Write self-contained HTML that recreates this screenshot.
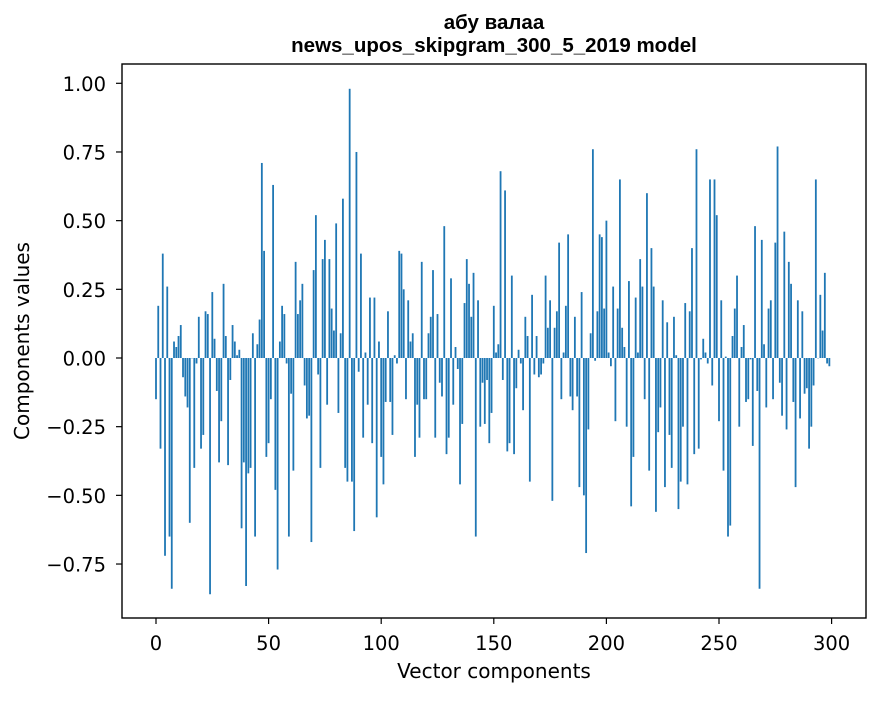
<!DOCTYPE html>
<html><head><meta charset="utf-8"><style>
body{margin:0;background:#fff;}
svg text{font-family:"DejaVu Sans","Liberation Sans",sans-serif;fill:#000;}
svg text.title{font-family:"Liberation Sans","DejaVu Sans",sans-serif;}
</style></head><body>
<svg id="chart" width="880" height="696" xmlns="http://www.w3.org/2000/svg">
<rect x="0" y="0" width="880" height="696" fill="#fff"/>
<text class="title" x="494" y="29" text-anchor="middle" font-size="20.5" font-weight="bold">абу валаа</text>
<text class="title" x="494" y="52" text-anchor="middle" font-size="20.5" font-weight="bold">news_upos_skipgram_300_5_2019 model</text>
<g id="bars"></g>
<g id="xticks"></g>
<g id="yticks"></g>
<rect x="122" y="64" width="744" height="554" fill="none" stroke="#000" stroke-width="1.4"/>
<text x="494" y="678" text-anchor="middle" font-size="20">Vector components</text>
<text transform="translate(29,341) rotate(-90)" text-anchor="middle" font-size="20">Components values</text>
</svg>
<script>
const values = [
-0.15,0.19,-0.33,0.38,-0.72,0.26,-0.65,-0.84,0.06,0.04,
0.08,0.12,-0.07,-0.14,-0.18,-0.60,0.0,-0.40,-0.02,0.15,
-0.33,-0.28,0.17,0.16,-0.86,0.24,0.07,-0.12,-0.38,-0.23,
0.27,0.08,-0.39,-0.08,0.12,0.06,0.01,0.03,-0.62,-0.38,
-0.83,-0.42,-0.40,0.09,-0.65,0.05,0.14,0.71,0.39,-0.36,
-0.31,-0.15,0.63,-0.48,-0.77,0.06,0.19,0.16,-0.02,-0.65,
-0.13,-0.41,0.35,0.16,0.21,0.27,-0.10,-0.22,-0.21,-0.67,
0.32,0.52,-0.06,-0.40,0.36,0.43,-0.17,0.36,0.18,0.10,
0.49,-0.20,0.09,0.58,-0.40,-0.45,0.98,-0.45,-0.63,0.75,
-0.05,0.38,-0.29,0.02,-0.17,0.22,-0.31,0.22,-0.58,0.06,
-0.36,-0.46,-0.16,0.17,-0.16,-0.28,0.01,-0.02,0.39,0.38,
0.25,-0.15,0.21,0.06,0.09,-0.36,-0.17,-0.29,0.35,-0.15,
-0.15,0.09,0.15,0.32,-0.29,0.16,-0.09,-0.14,0.48,-0.35,
-0.29,0.29,-0.17,0.04,-0.04,-0.46,-0.24,0.20,0.36,0.27,
0.15,0.31,-0.65,0.21,-0.25,-0.09,-0.24,-0.08,-0.31,-0.20,
0.19,0.02,0.05,0.68,-0.08,0.61,-0.34,-0.31,0.30,-0.35,
-0.11,0.03,-0.02,-0.19,0.15,0.08,-0.45,0.23,-0.06,0.08,
-0.07,-0.06,-0.02,0.30,0.11,0.21,-0.52,0.11,0.17,0.42,
-0.15,0.02,0.19,0.45,-0.14,-0.19,0.15,-0.14,-0.47,0.24,
-0.50,-0.71,-0.26,0.09,0.76,-0.01,0.17,0.45,0.44,0.18,
0.50,0.02,-0.03,0.26,-0.23,0.18,0.65,0.11,0.04,-0.25,
0.28,-0.54,-0.36,0.22,0.02,0.36,0.26,-0.15,0.60,-0.41,
0.40,0.26,-0.56,-0.27,-0.18,0.21,-0.47,0.13,-0.28,-0.40,
0.15,0.01,-0.55,-0.45,-0.25,0.20,-0.46,0.17,0.40,-0.35,
0.76,-0.33,-0.005,0.07,0.02,-0.02,0.65,-0.10,0.65,0.52,
-0.23,0.21,-0.41,0.005,-0.65,-0.61,0.08,0.18,0.30,-0.25,
0.04,0.12,-0.16,-0.15,-0.005,-0.32,0.48,-0.12,-0.84,0.43,
0.05,-0.18,0.18,0.21,-0.15,0.42,0.77,-0.09,-0.21,0.46,
-0.26,0.35,0.27,-0.16,-0.47,0.21,-0.22,0.17,-0.13,-0.11,
-0.33,-0.25,-0.10,0.65,0.0,0.23,0.10,0.31,-0.02,-0.03
];
const xTicks = [0,50,100,150,200,250,300];
const yTicks = [1.00,0.75,0.50,0.25,0.00,-0.25,-0.50,-0.75];
const NS='http://www.w3.org/2000/svg';
function xs(v){return 156 + v*2.252;}
function ys(v){return 358 - v*274.7;}
const bars=document.getElementById('bars');
values.forEach((v,i)=>{
  const r=document.createElementNS(NS,'rect');
  const y0=ys(0), y1=ys(v);
  r.setAttribute('x',(xs(i)-0.9).toFixed(2));
  r.setAttribute('width','1.8');
  r.setAttribute('y',Math.min(y0,y1).toFixed(2));
  r.setAttribute('height',Math.max(Math.abs(y1-y0),0.3).toFixed(2));
  r.setAttribute('fill','#1f77b4');
  
  
  bars.appendChild(r);
});
const xg=document.getElementById('xticks');
xTicks.forEach(t=>{
  const l=document.createElementNS(NS,'line');
  l.setAttribute('x1',xs(t));l.setAttribute('x2',xs(t));
  l.setAttribute('y1',618);l.setAttribute('y2',624);
  l.setAttribute('stroke','#000');l.setAttribute('stroke-width','1.2');
  
  
  xg.appendChild(l);
  const tx=document.createElementNS(NS,'text');
  tx.setAttribute('x',xs(t));tx.setAttribute('y',650);
  tx.setAttribute('text-anchor','middle');tx.setAttribute('font-size','19.5');
  tx.textContent=t;
  
  
  xg.appendChild(tx);
});
const yg=document.getElementById('yticks');
yTicks.forEach(t=>{
  const l=document.createElementNS(NS,'line');
  l.setAttribute('x1',116);l.setAttribute('x2',122);
  l.setAttribute('y1',ys(t));l.setAttribute('y2',ys(t));
  l.setAttribute('stroke','#000');l.setAttribute('stroke-width','1.2');
  
  
  yg.appendChild(l);
  const tx=document.createElementNS(NS,'text');
  tx.setAttribute('x',106);tx.setAttribute('y',ys(t)+7.5);
  tx.setAttribute('text-anchor','end');tx.setAttribute('font-size','19.5');
  tx.textContent=(t<0?'\u2212':'')+Math.abs(t).toFixed(2);
  
  
  yg.appendChild(tx);
});
</script>
</body></html>
